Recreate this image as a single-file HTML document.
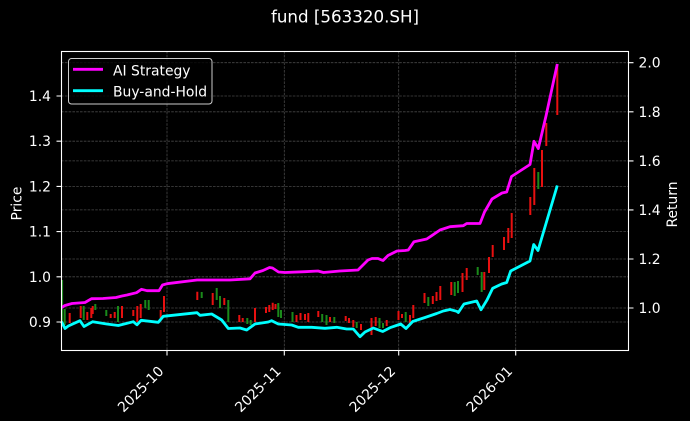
<!DOCTYPE html>
<html><head><meta charset="utf-8"><style>
html,body{margin:0;padding:0;background:#000;}
svg{display:block;}
text{font-family:"DejaVu Sans","Liberation Sans",sans-serif;fill:#fff;}
</style></head><body>
<svg width="690" height="421" viewBox="0 0 690 421" xmlns="http://www.w3.org/2000/svg">
<rect x="0" y="0" width="690" height="421" fill="#000"/>
<text x="345" y="22.3" font-size="16.7" text-anchor="middle">fund [563320.SH]</text>

<path fill="none" stroke="#474747" stroke-width="0.8" stroke-dasharray="2.6,1.2"
 d="M167 51V351M284.3 51V351M398.7 51V351M515.7 51V351
 M61 96H629M61 141.2H629M61 186.4H629M61 231.6H629M61 276.8H629M61 322H629
 M61 62.7H629M61 111.8H629M61 160.9H629M61 209.9H629M61 259H629M61 308H629"/>

<path fill="#1a8a1a" d="M61.5 280h1.6v43h-1.6z M63.7 309h2v16h-2z M82.7 306h2v14h-2z M94.3 304h2v6h-2z
 M105.3 310h2v6h-2z M117 306h2v16h-2z M144.3 300h2v8h-2z M147.7 300h2v10h-2z M200.7 292h2v6h-2z
 M215.7 288h2v12h-2z M219 296h2v12h-2z M227.3 300h2v22h-2z M246.3 318h2v6h-2z M249.7 320h2v5h-2z
 M277.3 303h2v14h-2z M280 310h2v8h-2z M291.5 312h2v10h-2z M321.2 314h2v8h-2z M325.5 315h2v10h-2z
 M333.3 317h2v6h-2z M355.7 322h2v6h-2z M378.5 318h2v10h-2z M382 323h2v5h-2z M404.7 312h2v10h-2z
 M427.3 297h2v9h-2z M453.7 282h2v14h-2z M457 281h2v12h-2z M476.7 267h2v8h-2z M480.7 272h2v20h-2z
 M537.3 172h2v17h-2z"/>

<path fill="#e81010" d="M68.7 313h2v10h-2z M79.7 306h2v12h-2z M86.3 312h2v8h-2z M90.3 308h2v10h-2z
 M91.7 306h2v8h-2z M109.7 314h2v4h-2z M113.7 312h2v6h-2z M121 306h2v12h-2z M132.3 310h2v6h-2z
 M136.3 306h2v16h-2z M139.7 304h2v14h-2z M159.7 310h2v8h-2z M163 296h2v16h-2z M196.3 291.7h2v8.3h-2z
 M211.7 293h2v12h-2z M223.3 298h2v7h-2z M238.3 315h2v7h-2z M241.7 318h2v4h-2z M254 308h2v14h-2z
 M265 307h2v6h-2z M268.3 305h2v7h-2z M271.7 302.7h2v7.3h-2z M274.5 304h2v5h-2z M295.5 315h2v7h-2z
 M299.5 313h2v7h-2z M304 314h2v6h-2z M307.3 313h2v9h-2z M317.3 311h2v6h-2z M329 317h2v5h-2z
 M344.7 316h2v5h-2z M348 318h2v5h-2z M352.3 320h2v7h-2z M360 324h2v6h-2z M370.5 318h2v17h-2z
 M374.7 317h2v9h-2z M385.7 320h2v6h-2z M397.5 311h2v9h-2z M401 314h2v4h-2z M409 315h2v9h-2z
 M412.3 305h2v13h-2z M423.5 293h2v10h-2z M431.8 296h2v8h-2z M435.5 292h2v9h-2z M439.3 286h2v14h-2z
 M450.3 282h2v13h-2z M461.5 273h2v19h-2z M465.7 268h2v12h-2z M483.3 272h2v18h-2z M488 257h2v16h-2z
 M491.7 245h2v12h-2z M503 237h2v13h-2z M507.3 228h2v15h-2z M510.7 213h2v25h-2z M529.3 197h2v18h-2z
 M533.3 168h2v37h-2z M541 150h2v37h-2z M545.3 123h2v23h-2z M556.3 64h2v51h-2z"/>

<polyline fill="none" stroke="#ff00ff" stroke-width="2.8" stroke-linejoin="round" points="61.5,307.5 65,305.5 72,303.5 85,302.5 91.5,298.7 103,298.5 116,297.5 122,296 127,295 136.5,292.7 141.5,289.3 147,290.7 159,290.7 162.5,285 167,283.7 197,280 230,280 250,278.8 255,273 263,270.5 269.5,267.5 272.5,268 278.5,272 285,272.5 305,271.7 318,271 323.5,272.5 340,271 358,270 368,260 372,258.5 378,258.5 383,260.5 388,255.5 397,251 405,250.5 408.3,250 414,241.7 426.7,239 431.7,235.7 440,230 450,226.7 463.3,225.7 466.7,223.5 480,223.5 484.5,212 492,199 502,193 506.7,192 511.5,176.5 530,164.5 534,141.3 538.3,148.5 546,116 557.3,64"/>
<polyline fill="none" stroke="#00ffff" stroke-width="2.8" stroke-linejoin="round" points="61.5,321.7 65,328.5 68.3,326 80,320.7 84,326.5 92.7,321.7 106.7,324 118.3,325.5 133.3,321.7 137,324.8 141.2,320.3 158.3,322.3 163.3,316.3 197,312.7 200,315.3 211.7,314 221.7,320 228.3,328.5 240,328 246.7,330 255,324 268.3,322 271.7,320.7 278.3,324 291.7,325 298.3,327.3 311.7,327.3 325,328.3 336.7,327.3 346.7,329 353.3,329 360,336.7 365,332 373.3,328 382.7,331.5 390,327.7 400.7,324 406,328.5 412.7,321.5 425,317.5 436.7,313.5 443.3,311 450,309.5 456.7,311.3 458.3,312.5 464,304 476.7,301 481,309.8 487,300 492.7,288.3 501.7,284 506.7,282.5 510.7,271 530,261 533.7,244.5 538,250.5 557.3,185.5"/>

<rect x="61.5" y="51.5" width="567" height="299" fill="none" stroke="#fff" stroke-width="1.1"/>

<path fill="none" stroke="#fff" stroke-width="1.1"
 d="M56.5 96h5M56.5 141.2h5M56.5 186.4h5M56.5 231.6h5M56.5 276.8h5M56.5 322h5
 M628.5 62.7h5M628.5 111.8h5M628.5 160.9h5M628.5 209.9h5M628.5 259h5M628.5 308h5
 M167 350.5v5M284.3 350.5v5M398.7 350.5v5M515.7 350.5v5"/>

<g font-size="13.9" text-anchor="end">
<text x="51" y="101">1.4</text>
<text x="51" y="146.2">1.3</text>
<text x="51" y="191.4">1.2</text>
<text x="51" y="236.6">1.1</text>
<text x="51" y="281.8">1.0</text>
<text x="51" y="327">0.9</text>
</g>
<g font-size="13.9">
<text x="638.5" y="67.7">2.0</text>
<text x="638.5" y="116.8">1.8</text>
<text x="638.5" y="165.9">1.6</text>
<text x="638.5" y="214.9">1.4</text>
<text x="638.5" y="264">1.2</text>
<text x="638.5" y="313">1.0</text>
</g>
<g font-size="13.9" text-anchor="end">
<text transform="translate(164.5,372) rotate(-45)">2025-10</text>
<text transform="translate(281.8,372) rotate(-45)">2025-11</text>
<text transform="translate(396.2,372) rotate(-45)">2025-12</text>
<text transform="translate(513.2,372) rotate(-45)">2026-01</text>
</g>
<text font-size="13.9" text-anchor="middle" transform="translate(21.5,203.5) rotate(-90)">Price</text>
<text font-size="13.9" text-anchor="middle" transform="translate(677,204.5) rotate(-90)">Return</text>

<rect x="68.5" y="58.5" width="143.5" height="45.5" rx="3" ry="3" fill="#000" fill-opacity="0.8" stroke="#cccccc" stroke-width="1"/>
<path d="M73 69.3h30" stroke="#ff00ff" stroke-width="2.8"/>
<path d="M73 90.7h30" stroke="#00ffff" stroke-width="2.8"/>
<text x="113" y="75.3" font-size="13.9">AI Strategy</text>
<text x="113" y="96.5" font-size="13.9">Buy-and-Hold</text>
</svg>
</body></html>
